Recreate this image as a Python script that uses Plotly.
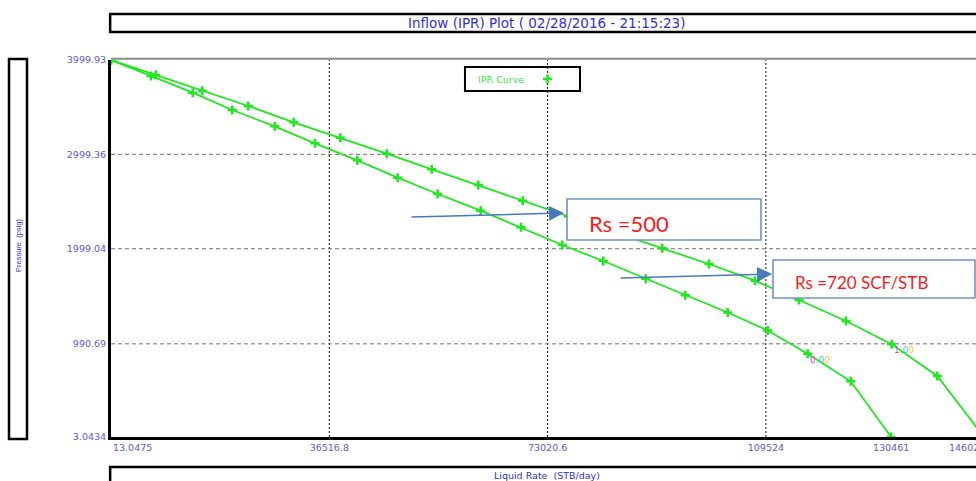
import plotly.graph_objects as go

# ---------------- data ----------------
rate_rs500 = [13.05, 7488, 15280, 22972, 30564, 38357, 46116, 53641, 61433, 68858,
              76516, 84292, 92201, 100011, 107703, 115060, 122920, 130562, 138187, 146020]
pwf_rs500 = [3999.93, 3840.9, 3674.4, 3512.2, 3339.4, 3176.1, 3006.5, 2841.1, 2674.7, 2508.2,
             2340.7, 2171.1, 2003.6, 1837.1, 1660.0, 1455.4, 1232.8, 985.8, 649.7, 3.04]

rate_rs720 = [13.05, 6702, 13675, 20297, 27387, 34126, 41199, 47955, 54644, 61834,
              68573, 75480, 82335, 89426, 96048, 103138, 109826, 116515, 123704, 130461]
pwf_rs720 = [3999.93, 3830.3, 3653.2, 3469.8, 3297.0, 3116.8, 2936.6, 2752.1, 2579.2, 2402.2,
             2226.3, 2038.6, 1869.0, 1681.3, 1505.3, 1322.8, 1131.9, 886.1, 593.4, 3.04]

x_ticks = [13.0475, 36516.8, 73020.6, 109524, 130461, 146020]
x_tick_text = ["13.0475", "36516.8", "73020.6", "109524", "130461", "146020"]
x_grid = [36516.8, 73020.6, 109524]
y_ticks = [3.0434, 990.69, 1999.04, 2999.36, 3999.93]
y_tick_text = ["3.0434", "990.69", "1999.04", "2999.36", "3999.93"]
y_grid = [990.69, 1999.04, 2999.36]

label_index = 17          # point carrying the small coloured value label
label_rs720 = ("0", ".0", "0")
label_rs500 = ("1", ".0", "0")

title_text = "Inflow (IPR) Plot ( 02/28/2016 - 21:15:23)"
x_title = "Liquid Rate  (STB/day)"
y_title = "Pressure  (psig)"
legend_name = "IPR Curve"
note1 = "Rs =500"
note2 = "Rs =720 SCF/STB"

# ---------------- styles ----------------
GREEN = "#1fe81f"
BLUE_T = "#2f2fd6"
BLUE_K = "#5a5ae2"
FONT = "DejaVu Sans"
NOTE_BORDER = "#7193c6"
ARROW = "#4a78bd"

X0, X1 = 13.0475, 144658.0
Y0, Y1 = 3.0434, 3999.93

fig = go.Figure()
marker = dict(symbol="cross-thin", size=6.5, line=dict(color=GREEN, width=2.6), color=GREEN)
for xs, ys in [(rate_rs500, pwf_rs500), (rate_rs720, pwf_rs720)]:
    fig.add_trace(go.Scatter(x=xs, y=ys, mode="lines+markers", name=legend_name,
                             line=dict(color=GREEN, width=1.8), marker=marker,
                             showlegend=False, hoverinfo="skip", cliponaxis=True))

shapes = []
# grid lines
for gx in x_grid:
    shapes.append(dict(type="line", xref="x", yref="paper", x0=gx, x1=gx, y0=0, y1=1,
                       line=dict(color="#111111", width=1, dash="2px,2px"), layer="below"))
for gy in y_grid:
    shapes.append(dict(type="line", xref="paper", yref="y", x0=0, x1=1, y0=gy, y1=gy,
                       line=dict(color="#707070", width=1, dash="4px,3px"), layer="below"))
# top border
shapes.append(dict(type="line", xref="paper", yref="paper", x0=0, x1=1.02, y0=1.003, y1=1.003,
                   line=dict(color="#8a8a8a", width=2)))
# title box, x-title box, y-title box
shapes.append(dict(type="rect", xref="paper", yref="paper", x0=-0.001, x1=1.05, y0=1.074, y1=1.122,
                   line=dict(color="black", width=2.5)))
shapes.append(dict(type="rect", xref="paper", yref="paper", x0=-0.001, x1=1.05, y0=-0.20, y1=-0.0796,
                   line=dict(color="black", width=2.5)))
shapes.append(dict(type="rect", xref="paper", yref="paper", x0=-0.1179, x1=-0.0971, y0=-0.0053, y1=1.0027,
                   line=dict(color="black", width=2.5)))
# legend box and symbol
shapes.append(dict(type="rect", xref="paper", yref="paper", x0=0.4092, x1=0.5422, y0=0.9178, y1=0.9814,
                   line=dict(color="black", width=2)))
lx, ly = 0.5046, 0.9496
shapes.append(dict(type="line", xref="paper", yref="paper", x0=lx - 0.0052, x1=lx + 0.0052, y0=ly, y1=ly,
                   line=dict(color=GREEN, width=2.5)))
shapes.append(dict(type="line", xref="paper", yref="paper", x0=lx, x1=lx, y0=ly - 0.0119, y1=ly + 0.0119,
                   line=dict(color=GREEN, width=2.5)))
# note boxes
shapes.append(dict(type="rect", xref="paper", yref="paper", x0=0.5272, x1=0.7514, y0=0.5225, y1=0.6313,
                   line=dict(color=NOTE_BORDER, width=1.6), fillcolor="white", layer="above"))
shapes.append(dict(type="rect", xref="paper", yref="paper", x0=0.7653, x1=0.9988, y0=0.3687, y1=0.4695,
                   line=dict(color=NOTE_BORDER, width=1.6), fillcolor="white", layer="above"))

ann = []
ann.append(dict(text=title_text, xref="paper", yref="paper", x=0.503, y=1.098, showarrow=False,
                xanchor="center", yanchor="middle",
                font=dict(family=FONT, size=13.5, color=BLUE_T)))
ann.append(dict(text=x_title, xref="paper", yref="paper", x=0.504, y=-0.1034, showarrow=False,
                xanchor="center", yanchor="middle",
                font=dict(family=FONT, size=9.5, color=BLUE_T)))
ann.append(dict(text=y_title, xref="paper", yref="paper", x=-0.1075, y=0.5066, showarrow=False,
                xanchor="center", yanchor="middle",
                textangle=-90, font=dict(family="Liberation Sans", size=7.5, color=BLUE_T)))
ann.append(dict(text=legend_name, xref="paper", yref="paper", x=0.4216, y=ly, xanchor="left",
                yanchor="middle", showarrow=False, font=dict(family=FONT, size=9.5, color="#3ee83e")))
# first / last x tick labels (edge aligned)
ann.append(dict(text=x_tick_text[0], xref="paper", yref="paper", x=0, y=0, xanchor="left", yanchor="top",
                yshift=-3, showarrow=False, font=dict(family=FONT, size=9.5, color=BLUE_K)))
ann.append(dict(text=x_tick_text[-1], xref="paper", yref="paper", x=0.9665, y=0, xanchor="left",
                yanchor="top", yshift=-3, showarrow=False, font=dict(family=FONT, size=9.5, color=BLUE_K)))
# notes text
ann.append(dict(text=note1, xref="paper", yref="paper", x=0.5503, y=0.565, xanchor="left",
                yanchor="middle", showarrow=False, font=dict(family="Lato", size=22, color="#ff1a1a")))
ann.append(dict(text=note2, xref="paper", yref="paper", x=0.7881, y=0.4098, xanchor="left",
                yanchor="middle", showarrow=False, font=dict(family="Lato", size=17, color="#ff1a1a")))
# arrows
ann.append(dict(text="", xref="paper", yref="paper", x=0.5237, y=0.5942, ax=-154, ay=4,
                showarrow=True, arrowhead=2, arrowsize=2, arrowwidth=1.5, arrowcolor=ARROW, standoff=0))
ann.append(dict(text="", xref="paper", yref="paper", x=0.7642, y=0.4324, ax=-153, ay=4,
                showarrow=True, arrowhead=2, arrowsize=2, arrowwidth=1.5, arrowcolor=ARROW, standoff=0))


def coloured(parts):
    cols = ["#e040e0", "#3cc8d8", "#ffc03a"]
    return "".join(f"<span style='color:{c}'>{p}</span>" for p, c in zip(parts, cols))


for xs, ys, parts in [(rate_rs720, pwf_rs720, label_rs720), (rate_rs500, pwf_rs500, label_rs500)]:
    ann.append(dict(text=coloured(parts), xref="x", yref="y", x=xs[label_index], y=ys[label_index],
                    xanchor="left", yanchor="middle", yshift=-6, showarrow=False,
                    font=dict(family=FONT, size=9)))

fig.update_layout(
    width=976, height=481,
    margin=dict(l=111, r=0, t=60, b=44, pad=0),
    paper_bgcolor="white", plot_bgcolor="white",
    showlegend=False,
    shapes=shapes, annotations=ann,
    xaxis=dict(range=[X0, X1], showgrid=False, zeroline=False,
               tickvals=x_ticks[1:5], ticktext=x_tick_text[1:5], ticks="",
               tickfont=dict(family=FONT, size=9.5, color=BLUE_K),
               showline=True, linecolor="black", linewidth=3),
    yaxis=dict(range=[Y0, Y1], showgrid=False, zeroline=False,
               tickvals=y_ticks, ticktext=y_tick_text, ticks="",
               tickfont=dict(family=FONT, size=9.5, color=BLUE_K),
               showline=True, linecolor="black", linewidth=3),
)

# remove the default 8px page margin so the 976x481 figure fills the window exactly
fig.write_html("out.html",
               config={"displayModeBar": False},
               post_script="document.body.style.margin='0';document.body.style.overflow='hidden';")
